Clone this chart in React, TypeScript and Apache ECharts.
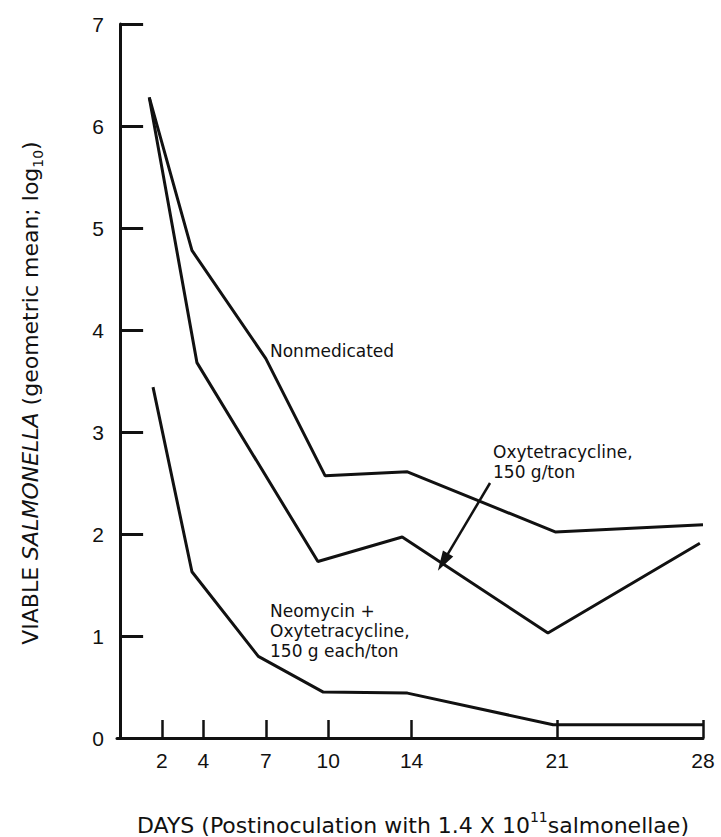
import React, { useEffect, useRef } from "react";
import * as echarts from "echarts";

// Days post-inoculation (x) and viable Salmonella, log10 geometric mean (y)
const nonmedDays = [1.4, 3.45, 7.0, 9.85, 13.8, 20.9, 28];
const nonmedLog = [6.28, 4.78, 3.72, 2.57, 2.61, 2.02, 2.09];

const oxyDays = [1.4, 3.69, 9.5, 13.55, 20.55, 27.85];
const oxyLog = [6.28, 3.68, 1.73, 1.97, 1.03, 1.91];

const neoDays = [1.58, 3.45, 6.64, 9.76, 13.8, 20.8, 28];
const neoLog = [3.44, 1.63, 0.8, 0.45, 0.44, 0.13, 0.13];

const xTickDays = [2, 4, 7, 10, 14, 21, 28];
const yTickValues = [0, 1, 2, 3, 4, 5, 6, 7];

// Arrow pointing at the oxytetracycline curve: [day, log10]
const arrowFrom = [17.77, 2.5];
const arrowTo = [15.51, 1.725];

const labelNonmed = "Nonmedicated";
const labelOxy = "Oxytetracycline,\n150 g/ton";
const labelNeo = "Neomycin +\nOxytetracycline,\n150 g each/ton";

const INK = "#111";
const ANN_FONT = "DejaVu Sans";
const TITLE_FONT = "DejaVu Sans";
const TICK_FONT = "Liberation Sans";

const zip = (xs: number[], ys: number[]) => xs.map((x, i) => [x, ys[i]]);

export default function App() {
  const ref = useRef<HTMLDivElement>(null);

  useEffect(() => {
    if (!ref.current) return;
    const chart = echarts.init(ref.current, undefined, { renderer: "svg" });

    const lineStyle = { color: INK, width: 3 };

    const option: any = {
      animation: false,
      backgroundColor: "#fff",
      grid: { left: 117, right: 18, top: 24, bottom: 99 },
      xAxis: {
        type: "value",
        min: -0.15,
        max: 28,
        axisLine: { show: true, lineStyle: { color: INK, width: 3 } },
        axisTick: {
          show: true,
          inside: true,
          length: 18,
          customValues: xTickDays,
          lineStyle: { color: INK, width: 2.5 },
        },
        axisLabel: {
          show: true,
          customValues: xTickDays,
          margin: 12,
          color: INK,
          fontSize: 21,
          fontFamily: TICK_FONT,
        },
        splitLine: { show: false },
      },
      yAxis: {
        type: "value",
        min: 0,
        max: 7,
        interval: 1,
        axisLine: { show: true, lineStyle: { color: INK, width: 3 } },
        axisTick: {
          show: true,
          inside: true,
          length: 23,
          lineStyle: { color: INK, width: 3 },
        },
        axisLabel: {
          show: true,
          margin: 13,
          color: INK,
          fontSize: 21,
          fontFamily: TICK_FONT,
          formatter: (v: number) => (yTickValues.includes(v) ? String(v) : ""),
        },
        splitLine: { show: false },
      },
      series: [
        {
          name: "Nonmedicated",
          type: "line",
          symbol: "none",
          lineStyle,
          data: zip(nonmedDays, nonmedLog),
        },
        {
          name: "Oxytetracycline, 150 g/ton",
          type: "line",
          symbol: "none",
          lineStyle,
          data: zip(oxyDays, oxyLog),
          markLine: {
            silent: true,
            symbol: ["none", "triangle"],
            symbolSize: [12, 20],
            label: { show: false },
            lineStyle: { type: "solid", color: INK, width: 2.5 },
            itemStyle: { color: INK },
            data: [[{ coord: arrowFrom }, { coord: arrowTo }]],
          },
        },
        {
          name: "Neomycin + Oxytetracycline, 150 g each/ton",
          type: "line",
          symbol: "none",
          lineStyle,
          data: zip(neoDays, neoLog),
        },
      ],
      graphic: [
        {
          type: "text",
          x: 270,
          y: 351,
          style: {
            text: labelNonmed,
            fontSize: 17,
            fontFamily: ANN_FONT,
            fill: INK,
            verticalAlign: "middle",
          },
        },
        {
          type: "text",
          x: 493,
          y: 442,
          style: {
            text: labelOxy,
            fontSize: 17,
            lineHeight: 20,
            fontFamily: ANN_FONT,
            fill: INK,
            verticalAlign: "top",
          },
        },
        {
          type: "text",
          x: 270,
          y: 601,
          style: {
            text: labelNeo,
            fontSize: 17,
            lineHeight: 20,
            fontFamily: ANN_FONT,
            fill: INK,
            verticalAlign: "top",
          },
        },
        {
          type: "text",
          x: 30,
          y: 393,
          rotation: Math.PI / 2,
          style: {
            text: "{n|VIABLE }{i|SALMONELLA}{n| (geometric mean; log}{s|10}{n|)}",
            align: "center",
            verticalAlign: "middle",
            fill: INK,
            rich: {
              n: { fontSize: 22, fontFamily: TITLE_FONT, lineHeight: 30, fill: INK },
              i: { fontSize: 22, fontFamily: TITLE_FONT, fontStyle: "italic", lineHeight: 30, fill: INK },
              s: { fontSize: 14, fontFamily: TITLE_FONT, verticalAlign: "bottom", lineHeight: 30, fill: INK },
            },
          },
        },
        {
          type: "text",
          x: 413,
          y: 825,
          style: {
            text: "{n|DAYS (Postinoculation with 1.4 X 10}{p|11}{n|salmonellae)}",
            align: "center",
            verticalAlign: "middle",
            fill: INK,
            rich: {
              n: { fontSize: 22, fontFamily: TITLE_FONT, lineHeight: 30, fill: INK },
              p: { fontSize: 14, fontFamily: TITLE_FONT, verticalAlign: "top", lineHeight: 30, fill: INK },
            },
          },
        },
      ],
    };

    chart.setOption(option);
    return () => chart.dispose();
  }, []);

  return (
    <div
      ref={ref}
      style={{ position: "fixed", left: 0, top: 0, width: 721, height: 837, background: "#fff" }}
    />
  );
}
